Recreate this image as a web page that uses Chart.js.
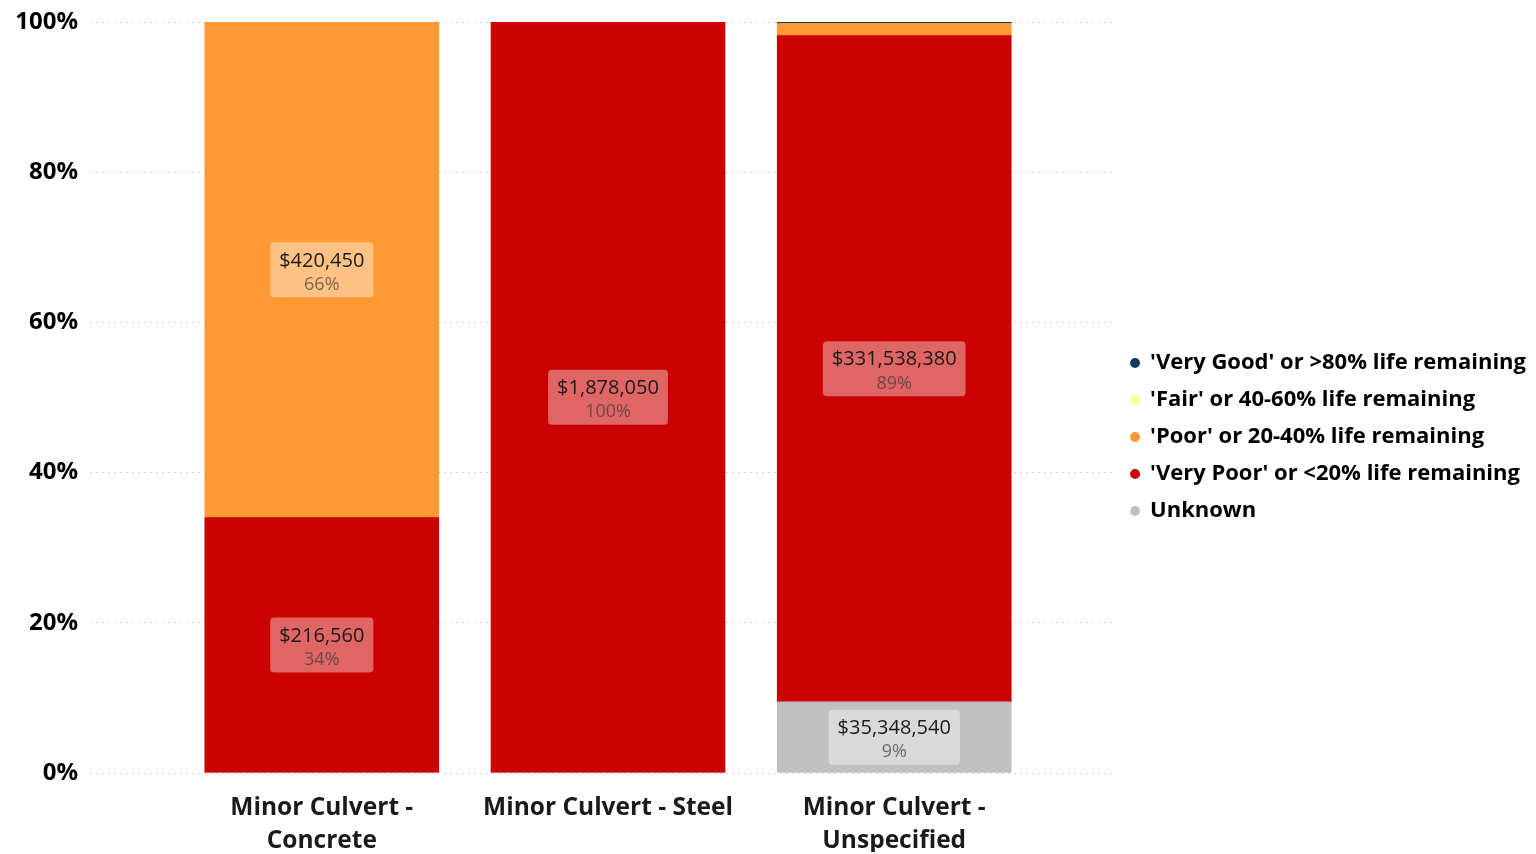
<!DOCTYPE html>
<html>
<head>
<meta charset="utf-8">
<script src="https://cdn.jsdelivr.net/npm/chart.js@4"></script>
<style>
  html, body { margin: 0; padding: 0; background: #fff; }
  #wrap { width: 1536px; height: 854px; position: relative; }
</style>
</head>
<body>
<div id="wrap"><canvas id="chart"></canvas></div>
<script>
const categories = ['Minor Culvert - Concrete', 'Minor Culvert - Steel', 'Minor Culvert - Unspecified'];
const tickLabels = [['Minor Culvert -', 'Concrete'], ['Minor Culvert - Steel'], ['Minor Culvert -', 'Unspecified']];
const yTicks = [0, 20, 40, 60, 80, 100];

// replacement cost ($) by condition
const unknown   = [0, 0, 35348540];
const veryPoor  = [216560, 1878050, 331538380];
const poor      = [420450, 0, 6100000];
const fair      = [0, 0, 0];
const veryGood  = [0, 0, 600000];

const series = [
  { label: 'Unknown', values: unknown, color: '#C0C0C0' },
  { label: "'Very Poor' or <20% life remaining", values: veryPoor, color: '#CC0000' },
  { label: "'Poor' or 20-40% life remaining", values: poor, color: '#FF9933' },
  { label: "'Fair' or 40-60% life remaining", values: fair, color: '#FFFF99' },
  { label: "'Very Good' or >80% life remaining", values: veryGood, color: '#12395F' }
];

const totals = categories.map((c, i) => series.reduce((s, d) => s + d.values[i], 0));

const FONT = '"Open Sans", "Noto Sans", sans-serif';

const segmentLabels = {
  id: 'segmentLabels',
  afterDatasetsDraw(chart) {
    const ctx = chart.ctx;
    chart.data.datasets.forEach((ds, di) => {
      const meta = chart.getDatasetMeta(di);
      meta.data.forEach((bar, i) => {
        const pct = ds.data[i].y;
        if (pct < 5) return;
        const money = '$' + ds.raw[i].toLocaleString('en-US');
        const share = Math.round(pct) + '%';
        const cx = bar.x;
        const cy = (bar.y + bar.base) / 2;
        ctx.save();
        ctx.font = '20px ' + FONT;
        const w = Math.max(ctx.measureText(money).width, ctx.measureText(share).width) + 18;
        const h = 55;
        ctx.fillStyle = 'rgba(255,255,255,0.4)';
        ctx.beginPath();
        ctx.roundRect(cx - w / 2, cy - h / 2, w, h, 4);
        ctx.fill();
        ctx.textAlign = 'center';
        ctx.textBaseline = 'middle';
        ctx.fillStyle = '#1a1a1a';
        ctx.fillText(money, cx, cy - 9);
        ctx.font = '18px ' + FONT;
        ctx.fillStyle = 'rgba(60,60,60,0.7)';
        ctx.fillText(share, cx, cy + 15);
        ctx.restore();
      });
    });
  }
};

new Chart(document.getElementById('chart'), {
  type: 'bar',
  data: {
    datasets: series.map(s => ({
      label: s.label,
      raw: s.values,
      data: s.values.map((v, i) => ({ x: i, y: totals[i] ? v / totals[i] * 100 : 0 })),
      backgroundColor: s.color,
      borderWidth: 0,
      barThickness: 234
    }))
  },
  options: {
    responsive: true,
    maintainAspectRatio: false,
    animation: false,
    layout: { padding: { top: 22, right: 0, bottom: 2, left: 0 } },
    plugins: {
      tooltip: { enabled: false },
      legend: {
        position: 'right',
        reverse: true,
        maxWidth: 440,
        labels: {
          usePointStyle: true,
          pointStyle: 'circle',
          boxWidth: 8,
          boxHeight: 7,
          padding: 15,
          color: '#000',
          font: { family: FONT, size: 22, weight: 'bold' }
        }
      }
    },
    scales: {
      x: {
        type: 'linear',
        stacked: true,
        offset: false,
        min: -0.8098,
        max: 2.775,
        afterBuildTicks: s => { s.ticks = categories.map((c, i) => ({ value: i })); },
        afterFit: s => { s.height = 79; },
        grid: { display: false },
        border: { display: false },
        ticks: {
          autoSkip: false,
          maxRotation: 0,
          padding: 10,
          color: '#1a1a1a',
          font: { family: FONT, size: 24.5, weight: 'bold', lineHeight: 1.35 },
          callback: v => tickLabels[v]
        }
      },
      y: {
        stacked: true,
        min: 0,
        max: 100,
        afterFit: s => { s.width = 90; s.paddingTop = 0; s.paddingBottom = 0; },
        afterBuildTicks: s => { s.ticks = yTicks.map(v => ({ value: v })); },
        grid: { color: '#d6d6d6', drawTicks: false },
        border: { display: false, dash: [2, 4] },
        ticks: {
          padding: 12,
          color: '#000',
          font: { family: FONT, size: 24, weight: 'bold' },
          callback: v => v + '%'
        }
      }
    }
  },
  plugins: [segmentLabels]
});
</script>
</body>
</html>
